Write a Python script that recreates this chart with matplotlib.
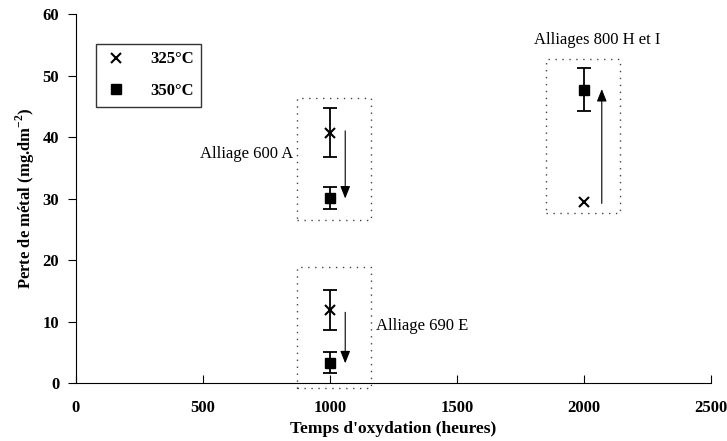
import matplotlib.pyplot as plt
from matplotlib.patches import Rectangle
from matplotlib.lines import Line2D

plt.rcParams['font.family'] = ['Liberation Serif', 'DejaVu Serif']
plt.rcParams['mathtext.fontset'] = 'custom'
plt.rcParams['mathtext.rm'] = 'Liberation Serif:bold'
plt.rcParams['mathtext.bf'] = 'Liberation Serif:bold'

# data
x_325 = [1000, 1000, 2000]
y_325 = [40.7, 11.9, 29.4]
err_325 = [4.0, 3.2, 0.0]

x_350 = [1000, 1000, 2000]
y_350 = [30.1, 3.3, 47.7]
err_350 = [1.8, 1.7, 3.5]

# dotted group boxes: (x0, x1, y0, y1)
boxes = [(870, 1160, 26.5, 46.4), (870, 1160, -0.8, 18.9), (1850, 2140, 27.7, 52.7)]
# arrows: (x, y_start, y_end)
arrows = [(1060, 41.0, 30.0), (1060, 11.5, 3.2), (2070, 29.2, 47.8)]
labels = [("Alliage 600 A", 855, 37.2, 'right'),
          ("Alliage 690 E", 1180, 9.3, 'left'),
          ("Alliages 800 H et I", 2050, 55.8, 'center')]

fig = plt.figure(figsize=(7.27, 4.41), dpi=100)
ax = fig.add_axes([0.1045, 0.1315, 0.8735, 0.8367])

for (x0, x1, y0, y1) in boxes:
    ax.add_patch(Rectangle((x0, y0), x1 - x0, y1 - y0, fill=False,
                           linestyle=(0, (1, 4)), linewidth=1.0,
                           edgecolor='#444444', clip_on=False))

for (xa, ys, ye) in arrows:
    ax.annotate('', xy=(xa, ye), xytext=(xa, ys),
                arrowprops=dict(arrowstyle='-|>,head_width=0.3,head_length=0.75',
                                color='black', lw=0.8, shrinkA=0, shrinkB=0))

# error bars only where an error was shown
for xs, ys, es in [(x_325, y_325, err_325), (x_350, y_350, err_350)]:
    sel = [i for i, e in enumerate(es) if e > 0]
    ax.errorbar([xs[i] for i in sel], [ys[i] for i in sel],
                yerr=[es[i] for i in sel], fmt='none', ecolor='black',
                elinewidth=1.3, capsize=5, capthick=1.3)

ax.plot(x_325, y_325, 'x', color='black', ms=7, mew=1.5, zorder=3)
ax.plot(x_350, y_350, 's', color='black', ms=7, zorder=3)

for txt, xt, yt, ha in labels:
    ax.text(xt, yt, txt, ha=ha, va='center', fontsize=12)

ax.set_xlim(0, 2500)
ax.set_ylim(0, 60)
ax.set_xticks([0, 500, 1000, 1500, 2000, 2500])
ax.set_yticks([0, 10, 20, 30, 40, 50, 60])
ax.spines['top'].set_visible(False)
ax.spines['right'].set_visible(False)
ax.tick_params(axis='y', direction='out', length=6, labelsize=12, pad=6)
ax.tick_params(axis='x', direction='in', length=6, labelsize=12, pad=12)
for lab in ax.get_xticklabels() + ax.get_yticklabels():
    lab.set_fontweight('bold')

ax.set_xlabel("Temps d'oxydation (heures)", fontsize=12.5, fontweight='bold')
ax.set_ylabel("Perte de métal (mg.dm$^{-2}$)", fontsize=12, fontweight='bold')

handles = [Line2D([], [], marker='x', ls='none', color='black', ms=7, mew=1.5),
           Line2D([], [], marker='s', ls='none', color='black', ms=7)]
leg = ax.legend(handles, ['325°C', '350°C'], loc='upper left',
                bbox_to_anchor=(0.0315, 0.919), borderaxespad=0, frameon=True,
                fancybox=False, edgecolor='black', handlelength=1.5,
                handletextpad=1.3, labelspacing=0.95, borderpad=0.45,
                prop={'weight': 'bold', 'size': 12})
leg.get_frame().set_linewidth(1.0)

fig.savefig('out.png', dpi=100)
